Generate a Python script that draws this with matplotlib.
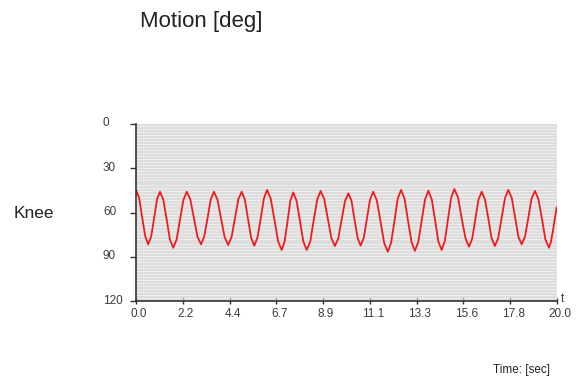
import matplotlib
matplotlib.use("Agg")
import matplotlib.pyplot as plt
import matplotlib.transforms as mtrans
import numpy as np

# Knee motion samples (time [s], angle [deg])
time_s = [
    0.00, 0.15, 0.29, 0.44, 0.58, 0.72, 0.86, 1.00, 1.14, 1.30, 1.46, 1.61,
    1.77, 1.93, 2.09, 2.25, 2.41, 2.58, 2.75, 2.92, 3.09, 3.24, 3.40, 3.55,
    3.70, 3.87, 4.04, 4.21, 4.38, 4.54, 4.70, 4.86, 5.02, 5.17, 5.32, 5.47,
    5.62, 5.77, 5.93, 6.08, 6.23, 6.40, 6.58, 6.75, 6.92, 7.06, 7.20, 7.33,
    7.47, 7.63, 7.79, 7.95, 8.11, 8.28, 8.44, 8.61, 8.77, 8.94, 9.11, 9.28,
    9.45, 9.61, 9.77, 9.93, 10.09, 10.24, 10.38, 10.53, 10.67, 10.82, 10.97, 11.12,
    11.27, 11.44, 11.62, 11.79, 11.96, 12.12, 12.28, 12.43, 12.59, 12.76, 12.92, 13.09,
    13.25, 13.41, 13.57, 13.73, 13.89, 14.05, 14.21, 14.36, 14.52, 14.67, 14.82, 14.97,
    15.12, 15.30, 15.47, 15.65, 15.82, 15.97, 16.12, 16.27, 16.42, 16.58, 16.74, 16.89,
    17.05, 17.21, 17.37, 17.53, 17.69, 17.85, 18.01, 18.16, 18.32, 18.48, 18.64, 18.79,
    18.95, 19.12, 19.29, 19.45, 19.62, 19.71, 19.80, 19.89, 19.98,
]
knee_deg = [
    44.7, 50.1, 63.2, 76.2, 81.6, 76.4, 63.8, 51.1, 45.9, 51.5, 64.9, 78.3,
    83.9, 78.3, 64.9, 51.5, 45.9, 51.1, 63.8, 76.4, 81.6, 76.4, 63.8, 51.1,
    45.9, 51.2, 64.0, 76.7, 82.0, 76.7, 64.0, 51.2, 45.9, 51.2, 64.2, 77.2,
    82.5, 77.0, 63.6, 50.2, 44.7, 50.6, 65.1, 79.5, 85.4, 79.7, 65.9, 52.1,
    46.4, 52.1, 65.9, 79.7, 85.4, 79.6, 65.4, 51.2, 45.4, 50.8, 64.1, 77.3,
    82.7, 77.5, 64.9, 52.2, 47.0, 52.2, 64.8, 77.3, 82.5, 77.2, 64.2, 51.2,
    45.9, 51.8, 66.3, 80.7, 86.6, 80.5, 65.7, 50.8, 44.7, 50.7, 65.4, 80.0,
    86.0, 80.0, 65.6, 51.2, 45.2, 51.1, 65.3, 79.5, 85.4, 79.4, 64.8, 50.1,
    44.1, 49.8, 63.7, 77.4, 83.2, 77.8, 64.6, 51.3, 45.9, 51.3, 64.3, 77.3,
    82.7, 77.2, 63.7, 50.2, 44.7, 50.1, 63.2, 76.2, 81.6, 76.3, 63.5, 50.7,
    45.4, 51.0, 64.7, 78.3, 83.9, 80.0, 73.0, 65.0, 56.7,
]

x_ticks = [0.0, 20 / 9, 40 / 9, 60 / 9, 80 / 9, 100 / 9, 120 / 9, 140 / 9, 160 / 9, 20.0]
x_tick_labels = ["0.0", "2.2", "4.4", "6.7", "8.9", "11.1", "13.3", "15.6", "17.8", "20.0"]
y_ticks = [0, 30, 60, 90, 120]
y_tick_labels = ["0", "30", "60", "90", "120"]

plt.rcParams['font.family'] = ['Liberation Sans', 'DejaVu Sans']

W, H = 583, 380
fig = plt.figure(figsize=(W / 100, H / 100), dpi=100)
fig.patch.set_facecolor('white')

ax = fig.add_axes([136 / W, 1 - 301 / H, (557 - 136) / W, (301 - 124) / H])
ax.set_facecolor('#ececec')

ax.set_xlim(0, 20)
ax.set_ylim(120, 0)

# striped background
ax.set_yticks(np.arange(1, 120, 2), minor=True)
ax.grid(which='minor', axis='y', color='#dadada', linewidth=1.2)
ax.tick_params(which='minor', length=0)

ax.plot(time_s, knee_deg, color='#f01c1c', linewidth=1.3)

ax.set_xticks(x_ticks)
ax.set_xticklabels(x_tick_labels)
ax.set_yticks(y_ticks)
ax.set_yticklabels(y_tick_labels)

tick_col = '#3c3c3c'
ax.tick_params(axis='x', which='major', direction='inout', length=4.5, width=1.0,
               color='#333333', labelsize=8.5, labelcolor=tick_col, pad=3)
ax.tick_params(axis='y', which='major', direction='out', length=4.5, width=1.0,
               color='#333333', labelsize=8.5, labelcolor=tick_col, pad=19.3)

for lbl in ax.get_xticklabels():
    lbl.set_transform(lbl.get_transform() +
                      mtrans.ScaledTranslation(3 / 100, 0, fig.dpi_scale_trans))
for lbl in ax.get_yticklabels():
    lbl.set_horizontalalignment('left')
    lbl.set_transform(lbl.get_transform() +
                      mtrans.ScaledTranslation(0, 2 / 100, fig.dpi_scale_trans))

for s in ['top', 'right']:
    ax.spines[s].set_visible(False)
for s in ['left', 'bottom']:
    ax.spines[s].set_color('#333333')
    ax.spines[s].set_linewidth(1.2)

fig.text(140 / W, 1 - 21 / H, "Motion [deg]", fontsize=16, color='#222222',
         ha='left', va='center')
fig.text(14 / W, 1 - 214 / H, "Knee", fontsize=12.5, color='#222222',
         ha='left', va='center')
fig.text(561 / W, 1 - 299 / H, "t", fontsize=8.5, color=tick_col,
         ha='left', va='center')
fig.text(550 / W, 1 - 370 / H, "Time: [sec]", fontsize=8.5, color='#222222',
         ha='right', va='center')

fig.savefig("out.png", dpi=100)
